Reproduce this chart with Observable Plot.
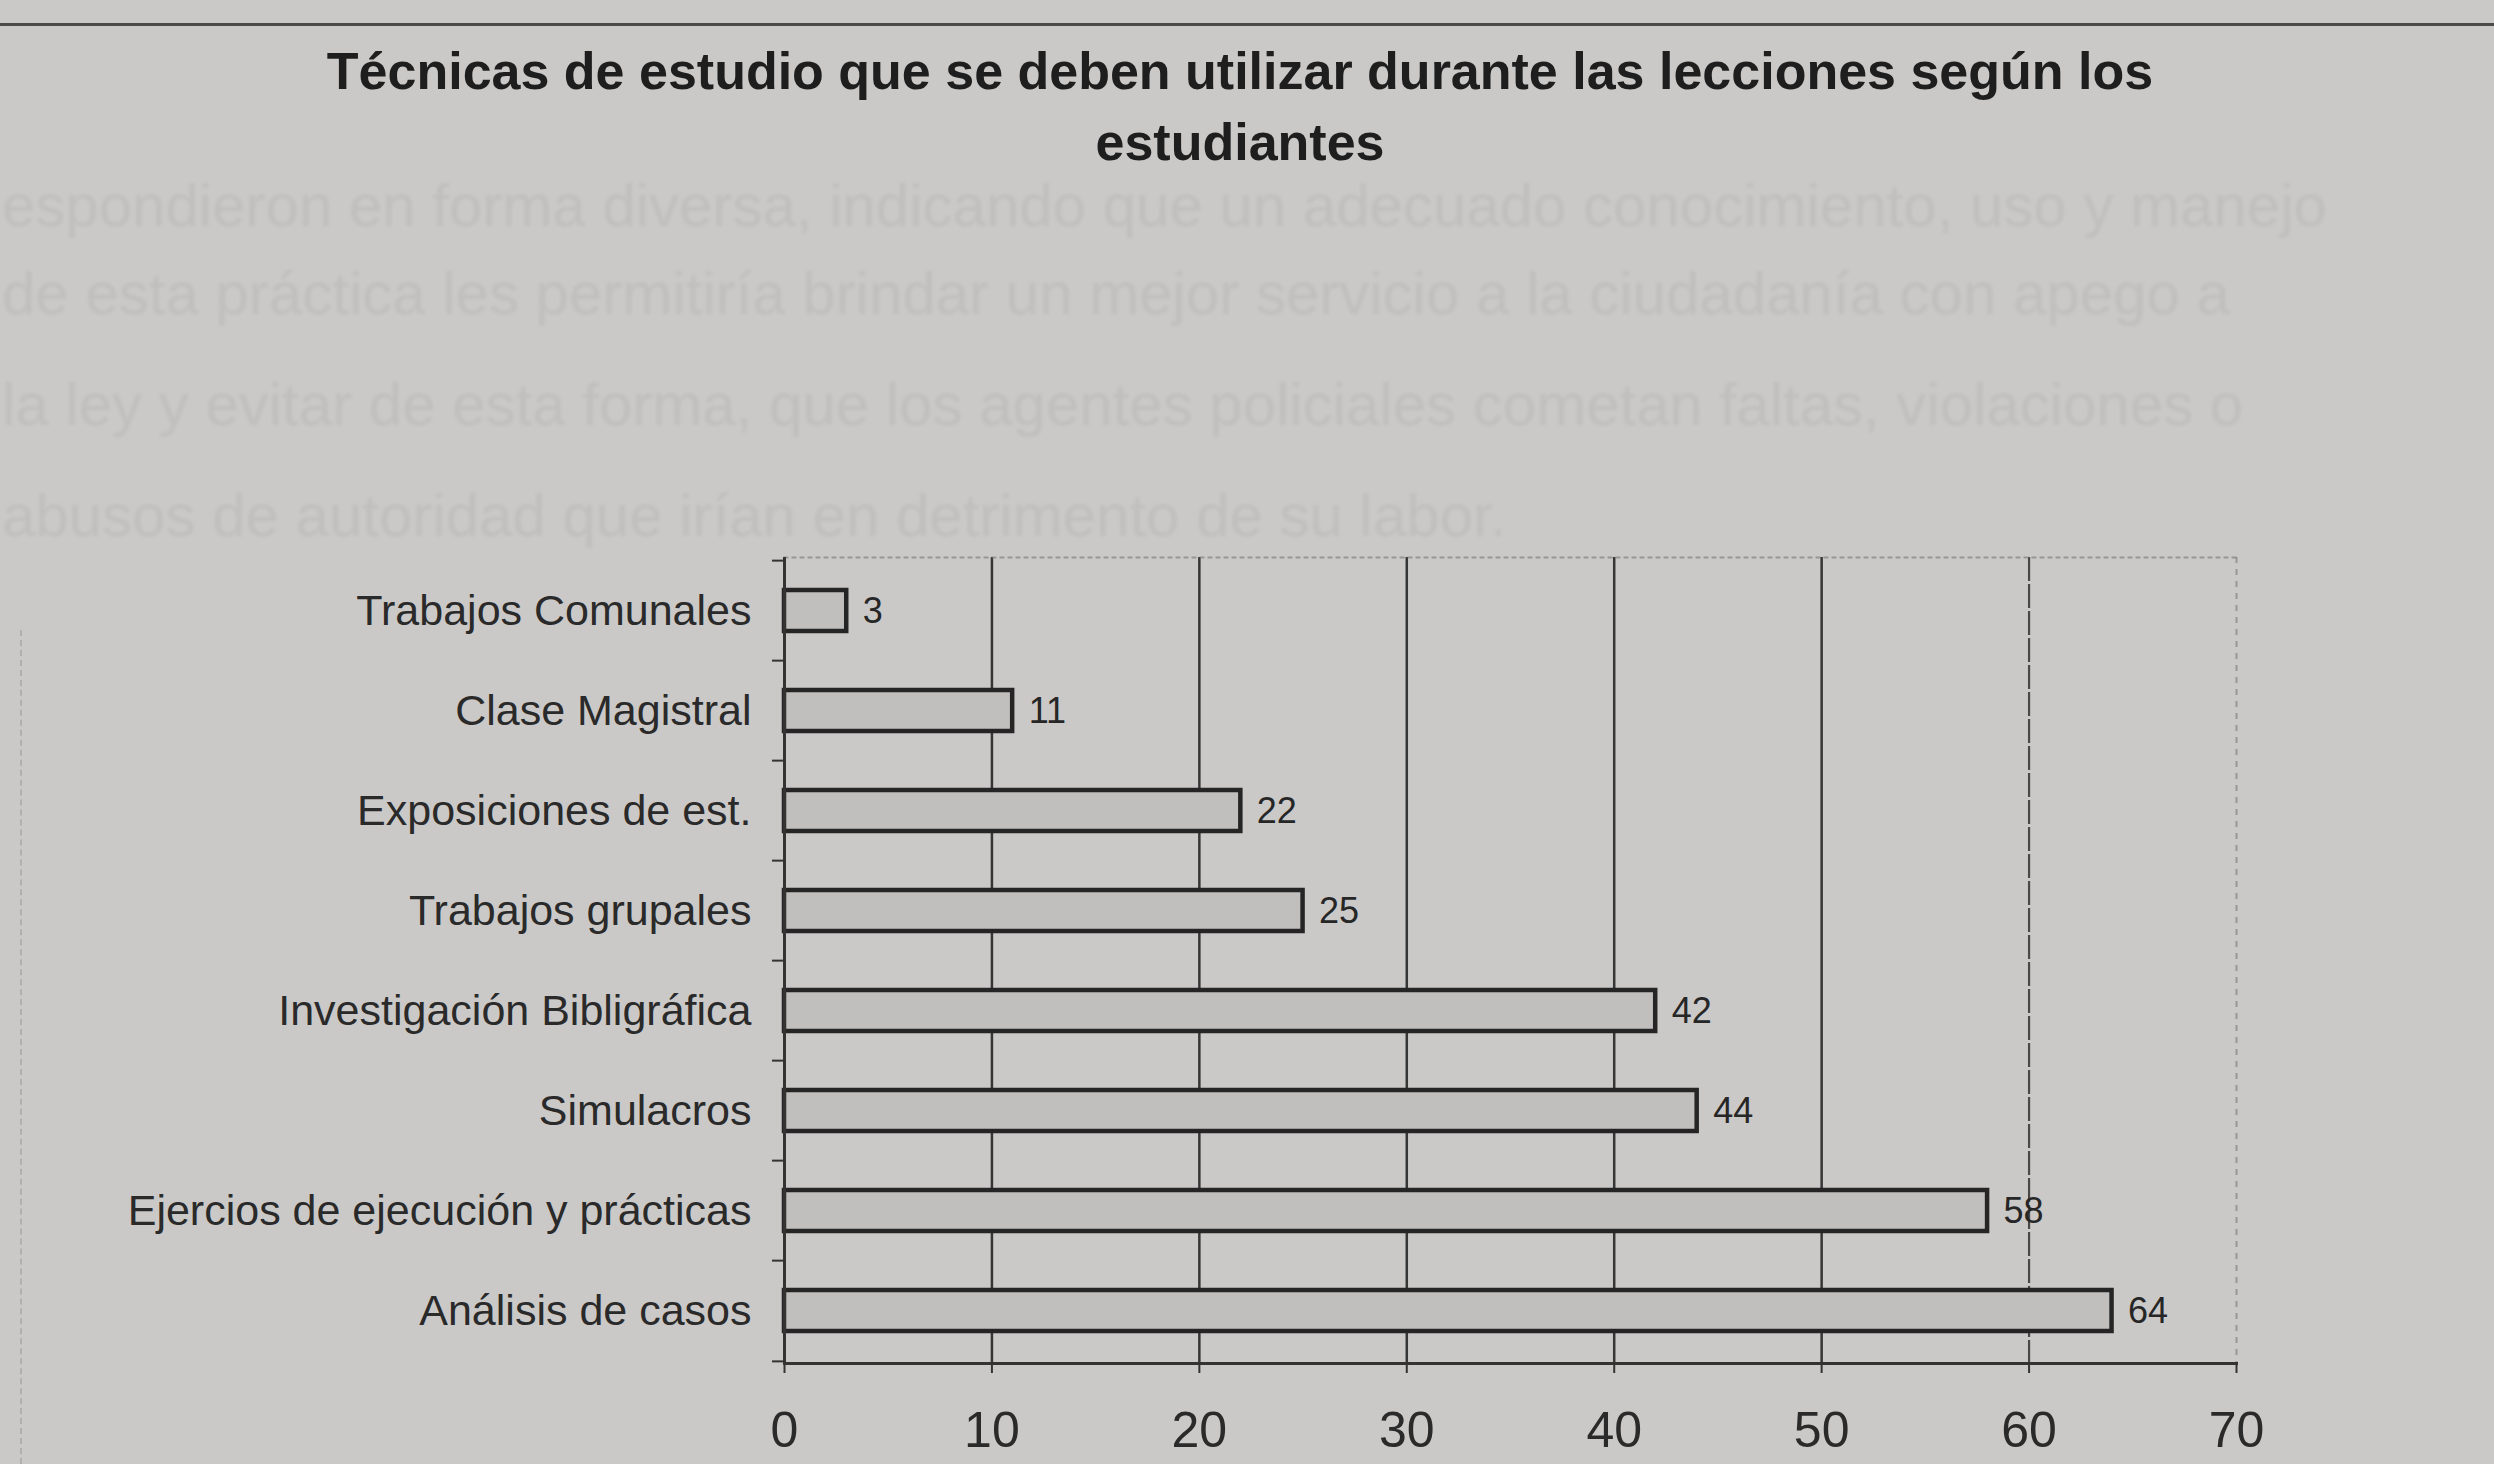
<!DOCTYPE html>
<html>
<head>
<meta charset="utf-8">
<script src="https://cdn.jsdelivr.net/npm/d3@7"></script>
<script src="https://cdn.jsdelivr.net/npm/@observablehq/plot@0.6"></script>
<style>
  html, body { margin: 0; padding: 0; width: 2494px; height: 1464px; overflow: hidden; background: #cbc9c8; font-family: "Liberation Sans", Arial, sans-serif; }
  #page { position: relative; width: 2494px; height: 1464px; }
  .ghost { position: absolute; white-space: nowrap; font-size: 60px; line-height: 60px; color: rgba(70,70,70,0.07); filter: blur(1.5px); }
  #rule { position: absolute; left: 0; top: 23px; width: 2494px; height: 0; border-top: 3px solid #4a4a4a; }
  #title { position: absolute; left: 0; top: 36px; width: 2480px; text-align: center; font-weight: bold; font-size: 52px; line-height: 71px; color: #1e1e1e; }
  #chartarea { position: absolute; left: 20px; top: 630px; width: 0; height: 834px; border-left: 2px dashed rgba(60,60,60,0.18); }
  #chart { position: absolute; left: 0; top: 190px; }
</style>
</head>
<body>
<div id="page">
  <div class="ghost" style="left:2px; top:176px;">espondieron en forma diversa, indicando que un adecuado conocimiento, uso y manejo</div>
  <div class="ghost" style="left:2px; top:264px;">de esta práctica les permitiría brindar un mejor servicio a la ciudadanía con apego a</div>
  <div class="ghost" style="left:2px; top:375px;">la ley y evitar de esta forma, que los agentes policiales cometan faltas, violaciones o</div>
  <div class="ghost" style="left:2px; top:486px;">abusos de autoridad que irían en detrimento de su labor.</div>
  <div id="rule"></div>
  <div id="title">Técnicas de estudio que se deben utilizar durante las lecciones según los<br>estudiantes</div>
  <div id="chartarea"></div>
  <div id="chart"></div>
</div>
<script>
const categories = [
  "Trabajos Comunales",
  "Clase Magistral",
  "Exposiciones de est.",
  "Trabajos grupales",
  "Investigación Bibligráfica",
  "Simulacros",
  "Ejercios de ejecución y prácticas",
  "Análisis de casos"
];
const values = [3, 11, 22, 25, 42, 44, 58, 64];
const xTicks = [0, 10, 20, 30, 40, 50, 60, 70];
const gridSolid = [10, 20, 30, 40, 50];
const gridDashed = [60];
const xMax = 70;

const data = categories.map((c, i) => ({category: c, value: values[i]}));

const W = 2494, H = 1274;
const mTop = 367, mBottom = 101, mLeft = 784, mRight = 258;
const step = (H - mTop - mBottom) / categories.length;
const font = "'Liberation Sans', Arial, sans-serif";

const chart = Plot.plot({
  width: W,
  height: H,
  marginTop: mTop,
  marginBottom: mBottom,
  marginLeft: mLeft,
  marginRight: mRight,
  style: {background: "transparent", fontFamily: font, color: "#2e2e2e"},
  x: {domain: [0, xMax], label: null},
  y: {domain: categories, paddingInner: 0.59, paddingOuter: 0.295, label: null},
  marks: [
    Plot.ruleX(gridSolid, {stroke: "#363636", strokeWidth: 2.5}),
    Plot.ruleX(gridDashed, {stroke: "#484848", strokeWidth: 2.2, strokeDasharray: "24,3"}),
    Plot.ruleX([xMax], {stroke: "#777", strokeWidth: 2, strokeDasharray: "6,6", strokeOpacity: 0.6}),
    Plot.frame({anchor: "top", stroke: "#777", strokeWidth: 2, strokeDasharray: "3,5", strokeOpacity: 0.6}),
    Plot.barX(data, {x: "value", y: "category", fill: "#c1bfbe", stroke: "#252525", strokeWidth: 4.5}),
    Plot.text(data, {x: "value", y: "category", text: d => String(d.value), dx: 16, textAnchor: "start", fontSize: 36, fill: "#262626"}),
    Plot.ruleX([0], {stroke: "#333", strokeWidth: 3}),
    Plot.frame({anchor: "bottom", stroke: "#333", strokeWidth: 3}),
    Plot.axisX({ticks: xTicks, tickSize: 10, tickPadding: 38, fontSize: 50, stroke: "#333", strokeWidth: 2, fill: "#2a2a2a", tickFormat: d => String(d)}),
    Plot.axisY({tickSize: 0, tickPadding: 33, fontSize: 43, fill: "#2a2a2a"}),
    Plot.axisY({tickSize: 12, tickFormat: () => "", dy: -step / 2, stroke: "#333", strokeWidth: 2}),
    Plot.axisY({ticks: [categories[categories.length - 1]], tickSize: 12, tickFormat: () => "", dy: step / 2, stroke: "#333", strokeWidth: 2})
  ]
});
document.getElementById("chart").appendChild(chart);
</script>
</body>
</html>
